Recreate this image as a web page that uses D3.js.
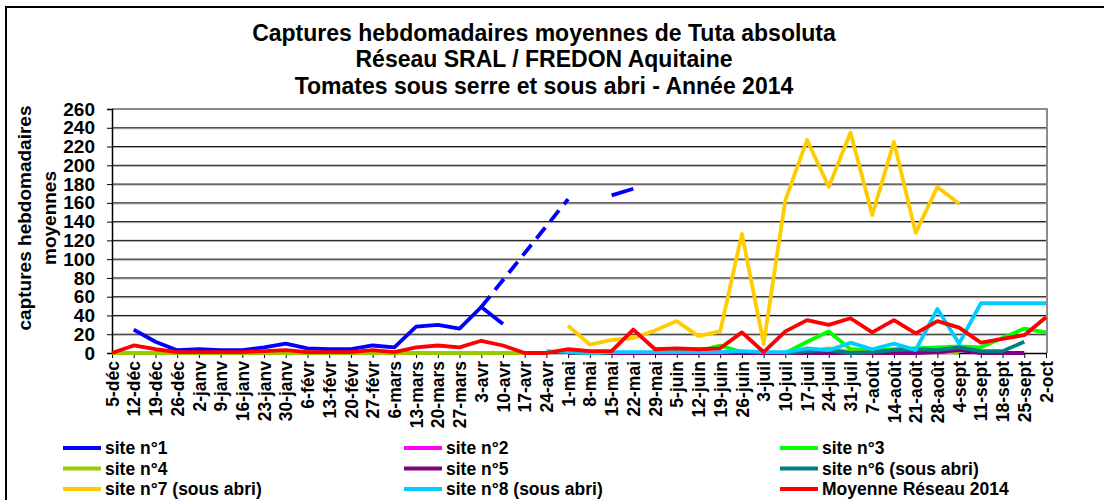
<!DOCTYPE html>
<html>
<head>
<meta charset="utf-8">
<script src="https://cdn.jsdelivr.net/npm/d3@7"></script>
<style>
  body { margin: 0; background: #fff; }
  svg text { font-family: "Liberation Sans", Arial, sans-serif; font-weight: bold; fill: #000; }
</style>
</head>
<body>
<script>
var weeks = ["5-déc","12-déc","19-déc","26-déc","2-janv","9-janv","16-janv","23-janv","30-janv","6-févr",
  "13-févr","20-févr","27-févr","6-mars","13-mars","20-mars","27-mars","3-avr","10-avr","17-avr",
  "24-avr","1-mai","8-mai","15-mai","22-mai","29-mai","5-juin","12-juin","19-juin","26-juin",
  "3-juil","10-juil","17-juil","24-juil","31-juil","7-août","14-août","21-août","28-août","4-sept",
  "11-sept","18-sept","25-sept","2-oct"];

var yTicks = [0,20,40,60,80,100,120,140,160,180,200,220,240,260];

var N = null;
var site1 = [N,25,12,3,4,3,3,6,10,5, 4,4,8,6,28,30,26,49,31,N, N,N,N,168,175,N,N,N,N,N, N,N,N,N,N,N,N,N,N,N, N,N,N,N];
// dashed part of site 1 (weeks without counts)
var site1Dash = [N,N,N,N,N,N,N,N,N,N, N,N,N,N,N,N,N,49,N,N, N,164,N,N,N,N,N,N,N,N, N,N,N,N,N,N,N,N,N,N, N,N,N,N];
var site2 = [N,N,N,N,N,N,N,N,N,N, N,N,N,N,N,N,N,N,N,N, N,0,0,0,0,0,0,0,0,0, 0,N,N,N,N,N,N,N,N,N, N,N,N,N];
var site3 = [N,N,N,N,N,N,N,N,N,N, N,N,N,N,N,N,N,N,N,N, N,0,0,0,0,0,1,2,8,1, 0,0,12,23,4,3,4,5,6,7, 6,16,26,22];
var site4 = [0,0,0,0,0,0,0,0,0,0, 0,0,0,0,0,0,0,0,0,0, N,N,N,N,N,N,N,N,N,N, N,0,1,5,1,1,2,1,2,0, N,N,N,N];
var site5 = [N,N,N,N,N,N,N,N,N,N, N,N,N,N,N,N,N,N,N,N, N,0,1,0,0,0,0,0,0,0, 0,0,0,0,0,0,0,0,1,3, 0,0,0,N];
var site6 = [N,N,N,N,N,N,N,N,N,N, N,N,N,N,N,N,N,N,N,N, N,N,N,N,N,N,N,N,N,N, N,0,2,3,0,1,3,4,3,6, 2,2,12,N];
var site7 = [N,N,N,N,N,N,N,N,N,N, N,N,N,N,N,N,N,N,N,N, N,29,9,14,16,24,34,18,23,127, 10,163,227,177,235,147,225,128,177,159, N,N,N,N];
var site8 = [N,N,N,N,N,N,N,N,N,N, N,N,N,N,N,N,N,N,N,N, 2,1,0,1,1,1,1,1,1,2, 1,1,5,3,11,4,10,3,47,10, 53,53,53,53];
var moyenne = [0,8,4,1,1,1,1,2,3,1, 1,1,3,1,6,8,6,13,8,0, 0,4,2,2,25,4,5,4,5,22, 1,23,35,30,37,22,35,21,34,27, 11,15,19,38];

var seriesNames = ["site n°1","site n°2","site n°3","site n°4","site n°5","site n°6 (sous abri)",
  "site n°7 (sous abri)","site n°8 (sous abri)","Moyenne Réseau 2014"];
var seriesValues = [site1, site2, site3, site4, site5, site6, site7, site8, moyenne];
var seriesColors = ["#0000ff","#ff00ff","#00ff00","#99cc00","#800080","#008080","#ffcc00","#00ccff","#ff0000"];

var width = 1104, height = 500;

var svg = d3.select("body").append("svg")
  .attr("width", width)
  .attr("height", height);

// outer frame
svg.append("rect")
  .attr("x", 6).attr("y", 7)
  .attr("width", width + 10).attr("height", height + 10)
  .attr("fill", "none").attr("stroke", "#000").attr("stroke-width", 2);

var x = d3.scalePoint().domain(weeks).range([112, 1046]);
var y = d3.scaleLinear().domain([0, 260]).range([353, 109]);

// title
var titleLines = ["Captures hebdomadaires moyennes de Tuta absoluta",
  "Réseau SRAL / FREDON Aquitaine",
  "Tomates sous serre et sous abri - Année 2014"];
svg.append("g").selectAll("text").data(titleLines).enter().append("text")
  .attr("x", 544)
  .attr("y", (d, i) => 40.5 + i * 26.5)
  .attr("text-anchor", "middle")
  .style("font-size", "23px")
  .text(d => d);

// gridlines
var grid = svg.append("g");
grid.selectAll("line.g2").data(yTicks.slice(1, -1)).enter().append("line")
  .attr("x1", 112).attr("x2", 1047)
  .attr("y1", d => y(d) + 1).attr("y2", d => y(d) + 1)
  .attr("stroke", "#aaa").attr("stroke-width", 1);
grid.selectAll("line.g1").data(yTicks.slice(1, -1)).enter().append("line")
  .attr("x1", 112).attr("x2", 1047)
  .attr("y1", d => y(d)).attr("y2", d => y(d))
  .attr("stroke", "#111").attr("stroke-width", 1);

// plot frame top & right
svg.append("path")
  .attr("d", "M112," + y(260) + "H1047V" + y(0))
  .attr("fill", "none").attr("stroke", "#8c8c8c").attr("stroke-width", 2);

// axes
var yAxis = svg.append("g")
  .attr("transform", "translate(112,0)")
  .call(d3.axisLeft(y).tickValues(yTicks).tickSize(5).tickPadding(12));
yAxis.select(".domain").attr("stroke", "#000").attr("stroke-width", 1.5);
yAxis.selectAll("text").style("font-size", "19px").style("font-family", "Liberation Sans, Arial, sans-serif");

var xAxis = svg.append("g")
  .attr("transform", "translate(0,353)")
  .call(d3.axisBottom(x).tickSize(5).tickSizeOuter(0));
xAxis.select(".domain").attr("stroke", "#000").attr("stroke-width", 1.5);
xAxis.selectAll("text")
  .style("font-size", "17.5px")
  .style("font-family", "Liberation Sans, Arial, sans-serif")
  .attr("text-anchor", "end")
  .attr("transform", "rotate(-90)")
  .attr("x", -8)
  .attr("y", 0)
  .attr("dy", "0.35em");

// y axis title, two lines
svg.append("text")
  .attr("transform", "translate(31,218) rotate(-90)")
  .attr("text-anchor", "middle")
  .style("font-size", "19px")
  .text("captures hebdomadaires");
svg.append("text")
  .attr("transform", "translate(56,218) rotate(-90)")
  .attr("text-anchor", "middle")
  .style("font-size", "19px")
  .text("moyennes");

// series lines
var line = d3.line()
  .defined(d => d != null)
  .x((d, i) => x(weeks[i]))
  .y(d => y(d));

var lines = svg.append("g");
seriesValues.forEach(function(vals, k) {
  lines.append("path")
    .attr("d", line(vals))
    .attr("fill", "none")
    .attr("stroke", seriesColors[k])
    .attr("stroke-width", 3.8)
    .attr("stroke-linejoin", "round");
  if (k === 0) {
    var pts = [];
    site1Dash.forEach(function(v, i) { if (v != null) pts.push([x(weeks[i]), y(v)]); });
    lines.append("path")
      .attr("d", d3.line()(pts))
      .attr("fill", "none")
      .attr("stroke", seriesColors[0])
      .attr("stroke-width", 3.8)
      .attr("stroke-dasharray", "14,8");
  }
});

// legend
var legCols = [63, 404, 780];
var legRows = [448, 468.5, 489];
var legend = svg.append("g");
seriesNames.forEach(function(name, k) {
  var lx = legCols[k % 3], ly = legRows[Math.floor(k / 3)];
  legend.append("line")
    .attr("x1", lx).attr("x2", lx + 38)
    .attr("y1", ly).attr("y2", ly)
    .attr("stroke", seriesColors[k]).attr("stroke-width", 4);
  legend.append("text")
    .attr("x", lx + 42).attr("y", ly)
    .attr("dy", "0.36em")
    .style("font-size", "17.5px")
    .text(name);
});
</script>
</body>
</html>
